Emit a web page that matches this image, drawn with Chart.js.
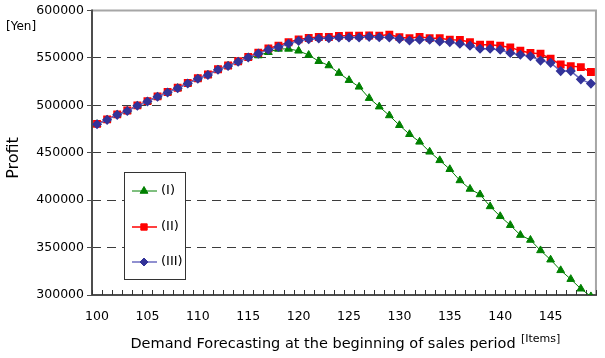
<!DOCTYPE html>
<html>
<head>
<meta charset="utf-8">
<script src="https://cdn.jsdelivr.net/npm/chart.js@4.4.1/dist/chart.umd.min.js"></script>
<style>
  html, body { margin: 0; padding: 0; background: #fff; }
  #wrap { width: 605px; height: 358px; position: relative; }
</style>
</head>
<body>
<div id="wrap"><canvas id="profitChart"></canvas></div>
<script>
// Demand forecast (items), 100..149
const demandLabels = [100,101,102,103,104,105,106,107,108,109,110,111,112,113,114,115,116,117,118,119,
                      120,121,122,123,124,125,126,127,128,129,130,131,132,133,134,135,136,137,138,139,
                      140,141,142,143,144,145,146,147,148,149];

// Profit [Yen] per case
const profitI = [480000,484700,490000,494000,499500,504000,509000,513500,518000,523000,
                 528000,532000,537500,541500,546000,550500,552500,556000,559500,559500,
                 557500,553000,546500,542000,534000,526500,519500,507600,498600,489300,
                 479000,469500,461500,451000,442000,432600,420800,411800,406000,393400,
                 383000,373600,363200,358000,347000,337200,326000,316700,306600,298500];
const profitII = [480500,485200,490500,494500,500000,504500,509500,514000,518500,523500,
                  528500,532500,538000,542000,546500,551000,555500,560000,563000,566500,
                  569500,571000,572000,572000,573300,573400,573500,573600,573500,574600,
                  571900,570800,572200,570800,570800,569100,569000,566700,563900,563900,
                  562900,561100,557600,555200,554500,549300,543000,541400,540300,535100];
const profitIII = [480000,484700,490000,494000,499500,504000,509000,513500,518000,523000,
                   528000,532000,537500,541500,546000,550500,554500,558700,561500,565000,
                   568000,569800,570500,570800,571500,571500,571500,572200,571800,571500,
                   570100,568400,569100,569100,567400,566700,564900,562900,559700,559700,
                   558700,555200,553400,551700,547200,544800,536100,536100,527400,522900];

const seriesNames = ['(I)', '(II)', '(III)'];
const yTicks = [300000, 350000, 400000, 450000, 500000, 550000, 600000];

const textFont = "'DejaVu Sans', sans-serif";

// frame, inward x tick marks, legend box and axis captions
const decorPlugin = {
    id: 'decor',
    beforeDatasetsDraw(chart) {
        const { ctx, chartArea: a } = chart;
        const n = demandLabels.length;
        const step = (a.right - a.left) / n;
        ctx.save();
        // top / right border
        ctx.strokeStyle = '#a6a6a6';
        ctx.lineWidth = 2;
        ctx.beginPath();
        ctx.moveTo(a.left, a.top);
        ctx.lineTo(a.right, a.top);
        ctx.lineTo(a.right, a.bottom);
        ctx.stroke();
        // axes
        ctx.strokeStyle = '#4d4d4d';
        ctx.beginPath();
        ctx.moveTo(a.left, a.top - 1);
        ctx.lineTo(a.left, a.bottom);
        ctx.lineTo(a.right + 1, a.bottom);
        ctx.stroke();
        // tick marks between categories
        ctx.lineWidth = 1;
        ctx.strokeStyle = '#333';
        ctx.beginPath();
        for (let i = 0; i <= n; i++) {
            const x = Math.round(a.left + i * step) + 0.5;
            ctx.moveTo(x, a.bottom);
            ctx.lineTo(x, a.bottom - 5);
        }
        ctx.stroke();
        ctx.restore();
    },
    afterDraw(chart) {
        const { ctx } = chart;
        ctx.save();
        // legend
        ctx.fillStyle = '#fff';
        ctx.fillRect(124.5, 172.5, 61, 107);
        ctx.strokeStyle = '#333';
        ctx.lineWidth = 1;
        ctx.strokeRect(124.5, 172.5, 61, 107);
        const rows = [191, 227, 262];
        chart.data.datasets.forEach((ds, i) => {
            const y = rows[i];
            ctx.strokeStyle = ds.borderColor;
            ctx.lineWidth = ds.borderWidth;
            ctx.beginPath();
            ctx.moveTo(132, y);
            ctx.lineTo(157, y);
            ctx.stroke();
            ctx.fillStyle = ds.pointBackgroundColor;
            ctx.strokeStyle = ds.pointBorderColor;
            ctx.lineWidth = 1;
            Chart.helpers.drawPoint(ctx, { pointStyle: ds.pointStyle, radius: ds.pointRadius, borderWidth: 1, rotation: 0 }, 144, y);
            ctx.fillStyle = '#000';
            ctx.font = '13px ' + textFont;
            ctx.textBaseline = 'middle';
            ctx.textAlign = 'left';
            ctx.fillText(ds.label, 161, y);
        });
        // captions
        ctx.fillStyle = '#000';
        ctx.textBaseline = 'middle';
        ctx.font = '12px ' + textFont;
        ctx.textAlign = 'left';
        ctx.fillText('[Yen]', 6, 27);
        ctx.font = '11px ' + textFont;
        ctx.fillText('[Items]', 521, 339);
        ctx.font = '14.5px ' + textFont;
        ctx.textAlign = 'center';
        ctx.fillText('Demand Forecasting at the beginning of sales period', 323, 344);
        ctx.translate(14, 158);
        ctx.rotate(-Math.PI / 2);
        ctx.font = '16px ' + textFont;
        ctx.fillText('Profit', 0, 0);
        ctx.restore();
    }
};

const ctx = document.getElementById('profitChart').getContext('2d');
new Chart(ctx, {
    type: 'line',
    data: {
        labels: demandLabels,
        datasets: [
            {
                label: seriesNames[0],
                data: profitI,
                borderColor: '#008000',
                borderWidth: 1,
                pointStyle: 'triangle',
                pointRadius: 4.5,
                pointBackgroundColor: '#008000',
                pointBorderColor: '#008000',
                order: 2
            },
            {
                label: seriesNames[1],
                data: profitII,
                borderColor: '#ff0000',
                borderWidth: 1.5,
                pointStyle: 'rect',
                pointRadius: 4.5,
                pointBackgroundColor: '#ff0000',
                pointBorderColor: '#ff0000',
                order: 1
            },
            {
                label: seriesNames[2],
                data: profitIII,
                borderColor: '#6b6bc0',
                borderWidth: 1.5,
                pointStyle: 'rectRot',
                pointRadius: 4,
                pointBackgroundColor: '#333399',
                pointBorderColor: '#333399',
                order: 0
            }
        ]
    },
    options: {
        responsive: true,
        maintainAspectRatio: false,
        animation: false,
        layout: { padding: { top: 7, right: 8, left: 0, bottom: 0 } },
        plugins: {
            legend: { display: false },
            tooltip: { enabled: false }
        },
        scales: {
            x: {
                type: 'category',
                offset: true,
                grid: { display: false, drawTicks: false },
                border: { display: false },
                ticks: {
                    autoSkip: false,
                    maxRotation: 0,
                    padding: 14,
                    color: '#000',
                    font: { family: textFont, size: 12.5 },
                    callback: (v, i) => demandLabels[i] % 5 === 0 ? String(demandLabels[i]) : ''
                },
                afterFit: (scale) => { scale.height = 63; }
            },
            y: {
                min: 300000,
                max: 600000,
                afterBuildTicks: (scale) => { scale.ticks = yTicks.map(v => ({ value: v })); },
                grid: {
                    color: '#3c3c3c',
                    lineWidth: 1,
                    tickLength: 5,
                    tickColor: '#4d4d4d',
                    tickBorderDash: []
                },
                border: { display: false, dash: [9, 6] },
                ticks: {
                    padding: 3,
                    color: '#000',
                    font: { family: textFont, size: 12.5 },
                    callback: (v) => String(v)
                },
                afterFit: (scale) => { scale.width = 92; }
            }
        }
    },
    plugins: [decorPlugin]
});
</script>
</body>
</html>
